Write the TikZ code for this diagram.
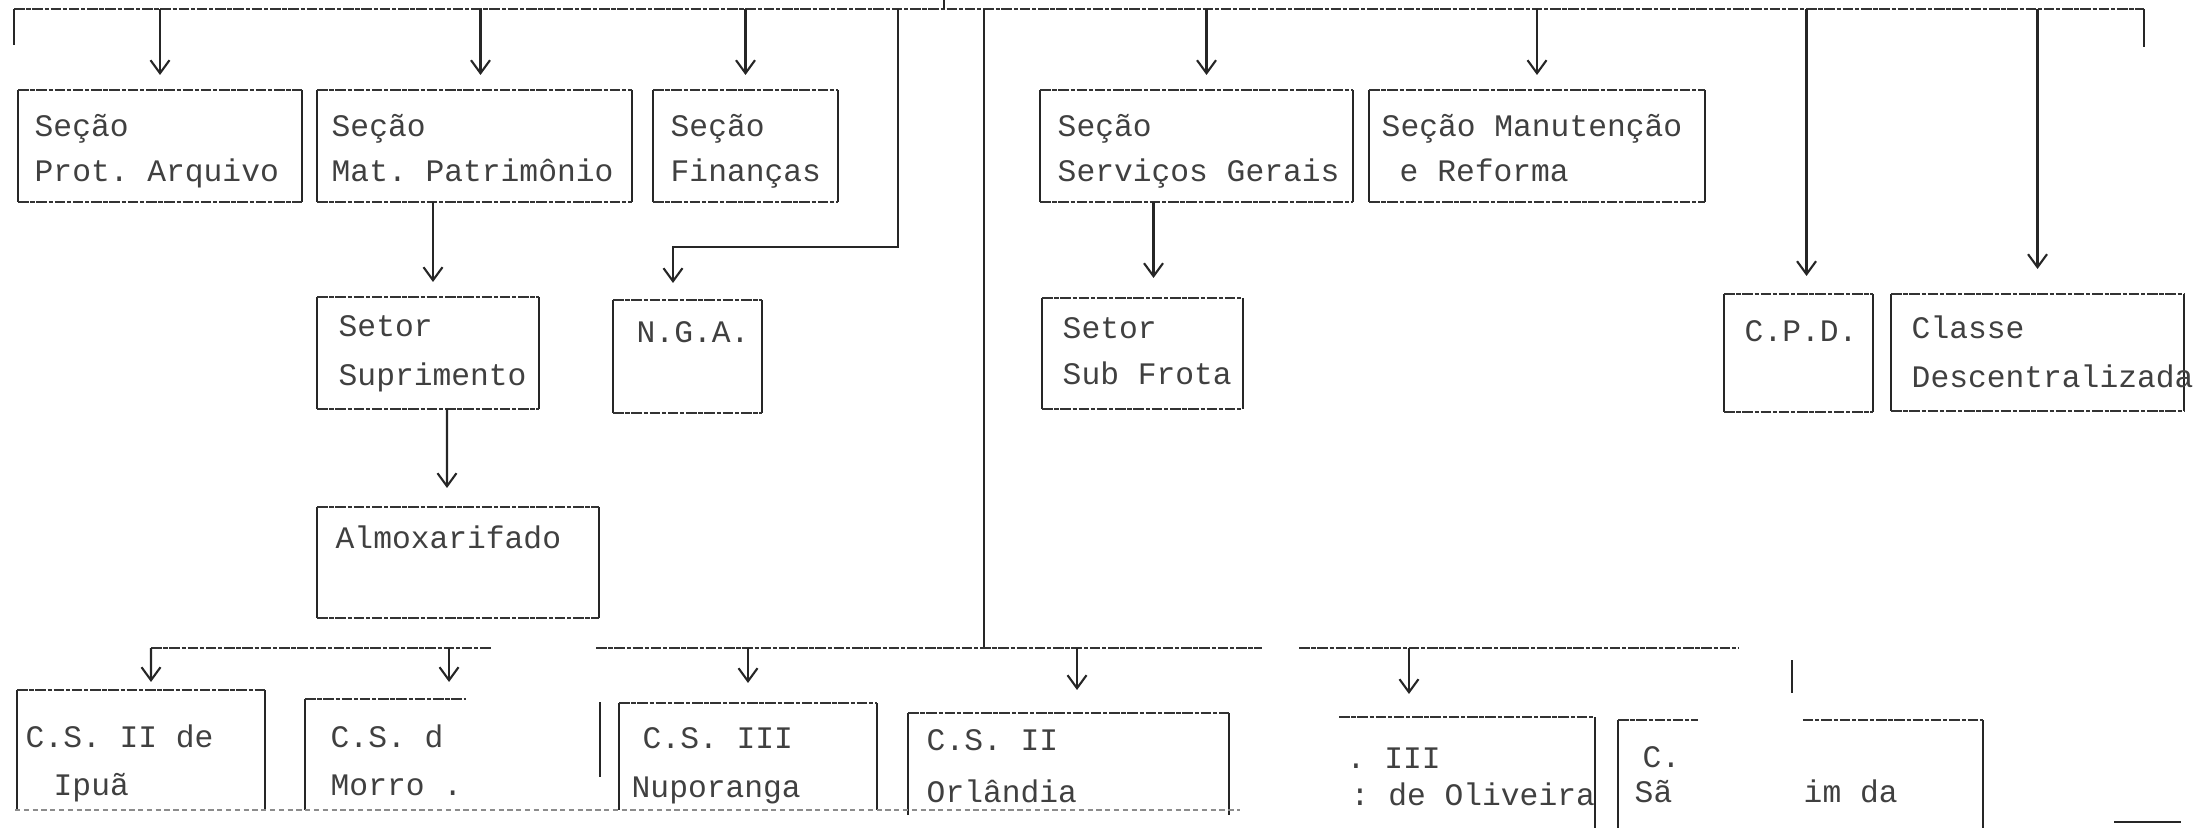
\documentclass[tikz,border=0pt]{standalone}
\usepackage{fontspec}
\setmonofont{Liberation Mono}
\usetikzlibrary{arrows.meta,fit,calc}
\newcommand{\boxedges}[1]{%
  \draw[vl] (#1.north west) -- (#1.south west) (#1.north east) -- (#1.south east);
  \draw[hl] (#1.north west) -- (#1.north east) (#1.south west) -- (#1.south east);}
\begin{document}
\begin{tikzpicture}[x=0.01cm,y=-0.01cm,
  vl/.style={draw=black!85,line width=0.6pt},
  hl/.style={draw=black!80,line width=0.6pt,dash pattern=on 3pt off 0.5pt on 1.2pt off 0.5pt},
  faint/.style={draw=black!45,line width=0.4pt,dash pattern=on 1.5pt off 1pt},
  conn/.style={draw=black!85,line width=0.6pt},
  arr/.style={conn,-{Straight Barb[length=1.3mm,width=1.9mm]}},
  box/.style={inner sep=0pt,outer sep=0pt,draw=none},
  txt/.style={anchor=base west,inner sep=0pt,text=black!75,font=\ttfamily\fontsize{8.9pt}{10pt}\selectfont}]
\useasboundingbox (0,0) rectangle (2198,828);

% ---------- top row boxes ----------
\node[box,fit={(18,90) (302,202)}] (prot) {};
\node[box,fit={(317,90) (632,202)}] (mat) {};
\node[box,fit={(653,90) (838,202)}] (fin) {};
\node[box,fit={(1040,90) (1353,202)}] (serv) {};
\node[box,fit={(1369,90) (1705,202)}] (manut) {};
% ---------- second row boxes ----------
\node[box,fit={(317,297) (539,409)}] (supr) {};
\node[box,fit={(613,300) (762,413)}] (nga) {};
\node[box,fit={(317,507) (599,618)}] (almox) {};
\node[box,fit={(1042,298) (1243,409)}] (subf) {};
\node[box,fit={(1724,294) (1873,412)}] (cpd) {};
\node[box,fit={(1891,294) (2184,411)}] (classe) {};
\foreach \b in {prot,mat,fin,serv,manut,supr,nga,almox,subf,cpd,classe} {\boxedges{\b}}

% ---------- texts ----------
\node[txt] (protA) at (34,137) {Seção};
\node[txt] (protB) at (34,182) {Prot. Arquivo};
\node[txt] (matA) at (331,137) {Seção};
\node[txt] (matB) at (331,182) {Mat. Patrimônio};
\node[txt] (finA) at (670,137) {Seção};
\node[txt] (finB) at (670,182) {Finanças};
\node[txt] (servA) at (1057,137) {Seção};
\node[txt] (servB) at (1057,182) {Serviços Gerais};
\node[txt] (manA) at (1381,137) {Seção Manutenção};
\node[txt] (manB) at (1399,182) {e Reforma};
\node[txt] (suprA) at (338,337) {Setor};
\node[txt] (suprB) at (338,386) {Suprimento};
\node[txt] (ngaA) at (636,343) {N.G.A.};
\node[txt] (almA) at (335,548) {Almoxarifado};
\node[txt] (subA) at (1062,339) {Setor};
\node[txt] (subB) at (1062,385) {Sub Frota};
\node[txt] (cpdA) at (1744,342) {C.P.D.};
\node[txt] (claA) at (1911,339) {Classe};
\node[txt] (claB) at (1911,388) {Descentralizada};

% ---------- top connector line ----------
\coordinate (tl) at (14,9);
\coordinate (tr) at (2144,9);
\coordinate (tlb) at (14,45);
\coordinate (trb) at (2144,47);
\coordinate (tick) at (944,0);
\coordinate (tickb) at (944,9);
\draw[hl] (tl) -- (tr);
\draw[conn] (tl) -- (tlb);
\draw[conn] (tr) -- (trb);
\draw[conn] (tick) -- (tickb);

\draw[arr] (prot.north |- tl) -- ([yshift=0.15cm]prot.north);
\draw[arr] ([xshift=0.06cm]mat.north |- tl) -- ([xshift=0.06cm,yshift=0.15cm]mat.north);
\draw[arr] (fin.north |- tl) -- ([yshift=0.15cm]fin.north);
\draw[arr] ([xshift=0.1cm]serv.north |- tl) -- ([xshift=0.1cm,yshift=0.15cm]serv.north);
\draw[arr] (manut.north |- tl) -- ([yshift=0.15cm]manut.north);
\draw[arr] ([xshift=0.08cm]cpd.north |- tl) -- ([xshift=0.08cm,yshift=0.18cm]cpd.north);
\draw[arr] (classe.north |- tl) -- ([yshift=0.25cm]classe.north);

% branch to N.G.A.
\coordinate (br) at (898,9);
\draw[arr] (br) |- ([xshift=-0.145cm,yshift=0.53cm]nga.north) -- ([xshift=-0.145cm,yshift=0.17cm]nga.north);

% sub-level arrows
\draw[arr] ([xshift=0.05cm]supr.north |- mat.south) -- ([xshift=0.05cm,yshift=0.15cm]supr.north);
\draw[arr] ([xshift=0.19cm]supr.south) -- ([xshift=-0.11cm,yshift=0.19cm]almox.north);
\draw[arr] ([xshift=0.11cm]subf.north |- serv.south) -- ([xshift=0.11cm,yshift=0.2cm]subf.north);

% main vertical
\coordinate (mv) at (984,9);
\coordinate (mvb) at (984,648);
\draw[conn] (mv) -- (mvb);

% ---------- bottom connector line ----------
\coordinate (b1a) at (151,648); \coordinate (b1b) at (491,648);
\coordinate (b2a) at (596,648); \coordinate (b2b) at (1262,648);
\coordinate (b3a) at (1299,648); \coordinate (b3b) at (1738,648);
\draw[hl] (b1a) -- (b1b);
\draw[hl] (b2a) -- (b2b);
\draw[hl] (b3a) -- (b3b);

% ---------- bottom row boxes (partly visible) ----------
\node[box,fit={(17,690) (265,810)}] (ipua) {};
\node[box,fit={(305,699) (466,810)}] (morro) {};
\node[box,fit={(619,703) (877,810)}] (nupo) {};
\node[box,fit={(908,713) (1229,815)}] (orl) {};
\node[box,fit={(1339,717) (1595,828)}] (oliv) {};
\node[box,fit={(1618,720) (1983,828)}] (cbox) {};

\draw[vl] (ipua.north west) -- (ipua.south west) (ipua.north east) -- (ipua.south east);
\draw[hl] (ipua.north west) -- (ipua.north east);
\draw[vl] (morro.north west) -- (morro.south west);
\draw[hl] (morro.north west) -- (morro.north east);
\draw[vl] (nupo.north west) -- (nupo.south west) (nupo.north east) -- (nupo.south east);
\draw[hl] (nupo.north west) -- (nupo.north east);
\draw[vl] (orl.north west) -- (orl.south west) (orl.north east) -- (orl.south east);
\draw[hl] (orl.north west) -- (orl.north east);
\draw[vl] (oliv.north east) -- (oliv.south east);
\draw[hl] (oliv.north west) -- (oliv.north east);
\draw[vl] (cbox.north west) -- (cbox.south west) (cbox.north east) -- (cbox.south east);
\draw[hl] (cbox.north west) -- ([xshift=0.8cm]cbox.north west);
\draw[hl] ([xshift=-1.8cm]cbox.north east) -- (cbox.north east);

\coordinate (sv) at (600,702); \coordinate (svb) at (600,777);
\draw[vl] (sv) -- (svb);
\coordinate (bl) at (15,810); \coordinate (blr) at (1240,810);
\draw[faint] (bl) -- (blr);
\coordinate (br1) at (2114,822); \coordinate (br2) at (2181,822);
\draw[conn] (br1) -- (br2);
\coordinate (tk) at (1792,660); \coordinate (tkb) at (1792,693);
\draw[conn] (tk) -- (tkb);

% bottom arrows
\draw[arr] (b1a) -- ([xshift=0.1cm,yshift=0.08cm]ipua.north);
\draw[arr] ([xshift=0.635cm]morro.north |- b1a) -- ([xshift=0.635cm,yshift=0.17cm]morro.north);
\draw[arr] (nupo.north |- b2a) -- ([yshift=0.2cm]nupo.north);
\draw[arr] ([xshift=0.085cm]orl.north |- b2a) -- ([xshift=0.085cm,yshift=0.23cm]orl.north);
\draw[arr] ([xshift=-0.58cm]oliv.north |- b3a) -- ([xshift=-0.58cm,yshift=0.23cm]oliv.north);

% bottom texts
\node[txt] (ipA) at (25,747) {C.S. II de};
\node[txt] (ipB) at (53,795) {Ipuã};
\node[txt] (moA) at (330,747) {C.S. d};
\node[txt] (moB) at (330,795) {Morro .};
\node[txt] (nuA) at (642,748) {C.S. III};
\node[txt] (nuB) at (631,797) {Nuporanga};
\node[txt] (orA) at (926,750) {C.S. II};
\node[txt] (orB) at (926,802) {Orlândia};
\node[txt] (olA) at (1346,768) {. III};
\node[txt] (olB) at (1350,805) {: de Oliveira};
\node[txt] (cA) at (1642,767) {C.};
\node[txt] (cB) at (1634,802) {Sã};
\node[txt] (cC) at (1803,802) {im da};
\end{tikzpicture}
\end{document}
